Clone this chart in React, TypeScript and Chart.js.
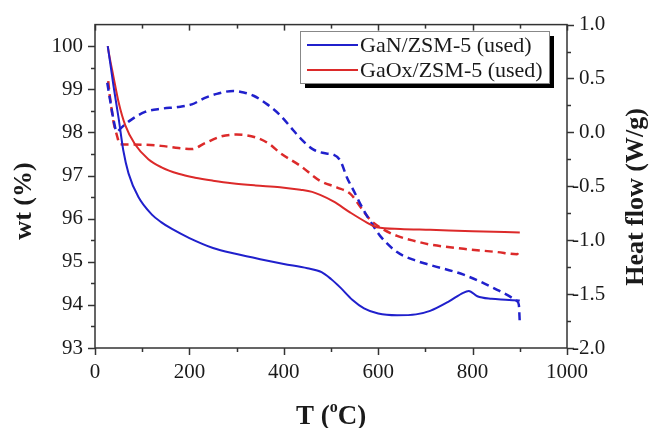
import React, { useEffect, useRef } from "react";
import { Chart, registerables } from "chart.js";

Chart.register(...registerables);

// ---- data ----
const tGaNTga = [27, 33, 39, 50, 60, 71, 92, 120, 140, 163, 200, 250, 300, 350, 400, 450, 480, 500, 520, 545, 570, 600, 640, 680, 710, 750, 780, 792, 810, 840, 870, 900];
const wtGaN = [100, 99.55, 99.09, 98.33, 97.58, 97.05, 96.5, 96.1, 95.92, 95.76, 95.55, 95.32, 95.18, 95.06, 94.95, 94.85, 94.76, 94.6, 94.4, 94.12, 93.92, 93.8, 93.76, 93.78, 93.86, 94.08, 94.28, 94.32, 94.2, 94.14, 94.12, 94.1];

const tGaOxTga = [27, 30, 39, 50, 64, 85, 113, 141, 177, 212, 250, 290, 340, 392, 435, 460, 477, 505, 541, 576, 597, 647, 710, 800, 900];
const wtGaOx = [100, 99.8, 99.3, 98.7, 98.17, 97.72, 97.38, 97.19, 97.04, 96.95, 96.88, 96.82, 96.77, 96.73, 96.67, 96.62, 96.55, 96.4, 96.14, 95.91, 95.8, 95.76, 95.74, 95.71, 95.68];

const tGaNDsc = [26, 32, 40, 46, 55, 71, 106, 141, 175, 205, 233, 260, 293, 315, 336, 365, 392, 420, 435, 463, 490, 505, 520, 534, 548, 569, 590, 604, 640, 680, 710, 781, 852, 894, 898, 900];
const hfGaN = [0.46, 0.3, 0.1, 0.006, 0.04, 0.1, 0.19, 0.22, 0.235, 0.26, 0.32, 0.36, 0.385, 0.37, 0.34, 0.26, 0.16, 0.02, -0.054, -0.16, -0.195, -0.205, -0.265, -0.42, -0.54, -0.72, -0.87, -0.96, -1.11, -1.19, -1.23, -1.32, -1.46, -1.565, -1.6, -1.77];

const tGaOxDsc = [28, 31, 35, 40, 46, 53, 75, 106, 140, 177, 205, 233, 265, 300, 343, 370, 392, 435, 477, 512, 541, 562, 583, 611, 640, 680, 710, 781, 852, 894, 901];
const hfGaOx = [0.475, 0.35, 0.22, 0.08, -0.02, -0.11, -0.112, -0.115, -0.125, -0.145, -0.155, -0.1, -0.04, -0.02, -0.05, -0.11, -0.19, -0.31, -0.45, -0.51, -0.57, -0.69, -0.81, -0.9, -0.96, -1.01, -1.04, -1.08, -1.11, -1.13, -1.08];

const seriesNames = ["GaN/ZSM-5 (used)", "GaOx/ZSM-5 (used)"];
const xRange = [0, 1000];
const wtRange = [93, 100.5];
const hfRange = [-2, 1];
const xTicks = [0, 200, 400, 600, 800, 1000];
const wtTicks = [93, 94, 95, 96, 97, 98, 99, 100];
const hfTicks = [-2, -1.5, -1, -0.5, 0, 0.5, 1];

const FONT = '"Liberation Serif", "Times New Roman", serif';
const BLUE = "#2020cc";
const RED = "#dc2a2a";
const AXIS = "#333333";
const TEXT = "#1a1a1a";

function pts(xs: number[], ys: number[]) {
  return xs.map((x, i) => ({ x, y: ys[i] }));
}

function midpoints(arr: number[]) {
  const out: number[] = [];
  for (let i = 0; i < arr.length - 1; i++) out.push((arr[i] + arr[i + 1]) / 2);
  return out;
}

const framePlugin = {
  id: "frame",
  afterDraw(chart: any) {
    const { ctx, chartArea: a, scales } = chart;
    const sx = scales.x;
    const sl = scales.y;
    const sr = scales.y1;
    ctx.save();
    ctx.strokeStyle = AXIS;
    ctx.lineWidth = 1.5;
    const line = (x1: number, y1: number, x2: number, y2: number) => {
      ctx.beginPath();
      ctx.moveTo(x1, y1);
      ctx.lineTo(x2, y2);
      ctx.stroke();
    };
    // frame
    ctx.strokeRect(a.left, a.top, a.right - a.left, a.bottom - a.top);
    // x ticks (bottom outward, top inward)
    const xt = (v: number, major: boolean) => {
      const px = Math.round(sx.getPixelForValue(v)) + 0.5;
      line(px, a.bottom, px, a.bottom + (major ? 7 : 4));
      line(px, a.top, px, a.top + (major ? 6 : 4));
    };
    xTicks.forEach((v) => xt(v, true));
    midpoints(xTicks).forEach((v) => xt(v, false));
    // left ticks (outward)
    const lt = (v: number, major: boolean) => {
      const py = Math.round(sl.getPixelForValue(v)) + 0.5;
      line(a.left, py, a.left - (major ? 7 : 4), py);
    };
    wtTicks.forEach((v) => lt(v, true));
    midpoints(wtTicks).forEach((v) => lt(v, false));
    // right ticks (outward)
    const rt = (v: number, major: boolean) => {
      const py = Math.round(sr.getPixelForValue(v)) + 0.5;
      line(a.right, py, a.right + (major ? 7 : 4), py);
    };
    hfTicks.forEach((v) => rt(v, true));
    midpoints(hfTicks).forEach((v) => rt(v, false));

    // legend with shadow
    const lx = 300, ly = 31, lw = 249, lh = 52;
    ctx.fillStyle = "#000";
    ctx.fillRect(lx + 5, ly + 5, lw, lh);
    ctx.fillStyle = "#fff";
    ctx.fillRect(lx, ly, lw, lh);
    ctx.strokeStyle = "#888";
    ctx.lineWidth = 1;
    ctx.strokeRect(lx + 0.5, ly + 0.5, lw, lh);
    const colors = [BLUE, RED];
    ctx.font = `22px ${FONT}`;
    ctx.textBaseline = "middle";
    ctx.textAlign = "left";
    seriesNames.forEach((name, i) => {
      const yy = ly + 14 + i * 25;
      ctx.strokeStyle = colors[i];
      ctx.lineWidth = 2;
      line(lx + 7, yy, lx + 58, yy);
      ctx.fillStyle = TEXT;
      ctx.fillText(name, lx + 60, yy + 1);
    });

    // axis titles
    ctx.fillStyle = TEXT;
    ctx.font = `bold 26px ${FONT}`;
    ctx.textAlign = "center";
    ctx.textBaseline = "middle";
    ctx.save();
    ctx.translate(24, 201);
    ctx.rotate(-Math.PI / 2);
    ctx.fillText("wt (%)", 0, 0);
    ctx.restore();
    ctx.save();
    ctx.translate(636, 197);
    ctx.rotate(-Math.PI / 2);
    ctx.fillText("Heat flow (W/g)", 0, 0);
    ctx.restore();

    // bottom title T (°C) with superscript o
    ctx.textBaseline = "alphabetic";
    ctx.textAlign = "left";
    const big = `bold 27px ${FONT}`;
    const small = `bold 16px ${FONT}`;
    ctx.font = big;
    const p1 = "T (";
    const p2 = "o";
    const p3 = "C)";
    const w1 = ctx.measureText(p1).width;
    const w3 = ctx.measureText(p3).width;
    ctx.font = small;
    const w2 = ctx.measureText(p2).width;
    const total = w1 + w2 + w3;
    const cx = (a.left + a.right) / 2;
    const x0 = cx - total / 2;
    const base = 424;
    ctx.font = big;
    ctx.fillText(p1, x0, base);
    ctx.font = small;
    ctx.fillText(p2, x0 + w1, base - 12);
    ctx.font = big;
    ctx.fillText(p3, x0 + w1 + w2, base);
    ctx.restore();
  },
};

export default function App() {
  const ref = useRef<HTMLCanvasElement | null>(null);
  useEffect(() => {
    if (!ref.current) return;
    const tickFont = { family: FONT, size: 21 };
    const chart = new Chart(ref.current, {
      type: "scatter",
      data: {
        datasets: [
          { label: "GaN TGA", data: pts(tGaNTga, wtGaN), yAxisID: "y", borderColor: BLUE, borderWidth: 2, showLine: true, pointRadius: 0, cubicInterpolationMode: "monotone" },
          { label: "GaOx TGA", data: pts(tGaOxTga, wtGaOx), yAxisID: "y", borderColor: RED, borderWidth: 2, showLine: true, pointRadius: 0, cubicInterpolationMode: "monotone" },
          { label: "GaN DSC", data: pts(tGaNDsc, hfGaN), yAxisID: "y1", borderColor: BLUE, borderWidth: 2.5, borderDash: [8, 5], showLine: true, pointRadius: 0, cubicInterpolationMode: "monotone" },
          { label: "GaOx DSC", data: pts(tGaOxDsc, hfGaOx), yAxisID: "y1", borderColor: RED, borderWidth: 2.5, borderDash: [8, 5], showLine: true, pointRadius: 0, cubicInterpolationMode: "monotone" },
        ] as any,
      },
      options: {
        animation: false,
        responsive: false,
        devicePixelRatio: 1,
        layout: { padding: { top: 18, left: 0, right: 0, bottom: 0 } },
        plugins: { legend: { display: false }, tooltip: { enabled: false }, title: { display: false } },
        scales: {
          x: {
            type: "linear",
            position: "bottom",
            min: xRange[0],
            max: xRange[1],
            grid: { display: false, drawTicks: false },
            border: { display: false },
            afterBuildTicks: (s: any) => { s.ticks = xTicks.map((v) => ({ value: v })); },
            ticks: { font: tickFont, color: TEXT, padding: 12, maxRotation: 0, autoSkip: false, callback: (v: any) => String(v) },
            afterFit: (s: any) => { s.height = 80; },
          },
          y: {
            type: "linear",
            position: "left",
            min: wtRange[0],
            max: wtRange[1],
            grid: { display: false, drawTicks: false },
            border: { display: false },
            afterBuildTicks: (s: any) => { s.ticks = wtTicks.map((v) => ({ value: v })); },
            ticks: { font: tickFont, color: TEXT, padding: 12, autoSkip: false, callback: (v: any) => String(v) },
            afterFit: (s: any) => { s.width = 95; },
          },
          y1: {
            type: "linear",
            position: "right",
            min: hfRange[0],
            max: hfRange[1],
            grid: { display: false, drawTicks: false },
            border: { display: false },
            afterBuildTicks: (s: any) => { s.ticks = hfTicks.map((v) => ({ value: v })); },
            ticks: {
              font: tickFont,
              color: TEXT,
              padding: 5,
              autoSkip: false,
              callback: (v: any) => (v < 0 ? "-" + Math.abs(v).toFixed(1) : "\u2004" + Number(v).toFixed(1)),
            },
            afterFit: (s: any) => { s.width = 84; },
          },
        },
      } as any,
      plugins: [framePlugin],
    });
    return () => chart.destroy();
  }, []);
  return (
    <div style={{ position: "fixed", left: 0, top: 0, width: 651, height: 428, background: "#fff" }}>
      <canvas ref={ref} width={651} height={428} style={{ display: "block", width: 651, height: 428 }} />
    </div>
  );
}
